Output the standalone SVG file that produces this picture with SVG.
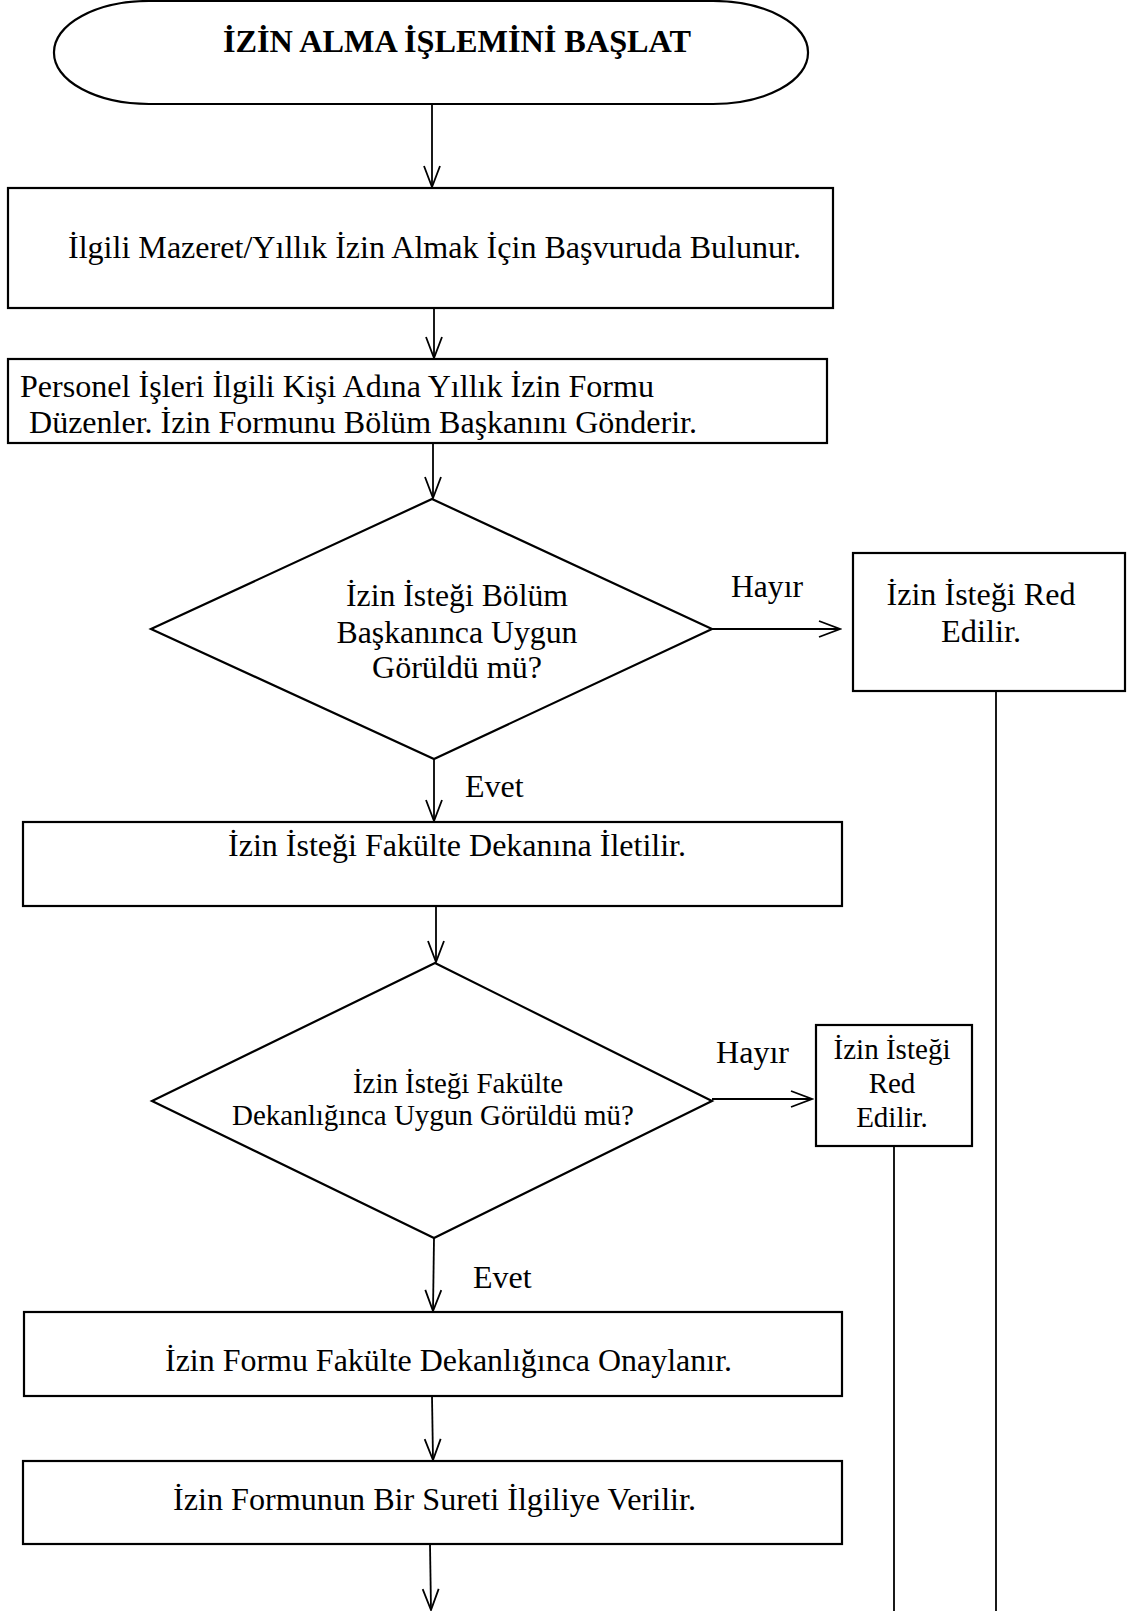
<svg xmlns="http://www.w3.org/2000/svg" width="1139" height="1611" viewBox="0 0 1139 1611">
<style>
.box{fill:#fff;stroke:#000;stroke-width:2.2}
.t{font-family:'Liberation Serif','Times New Roman',serif;font-size:32px;fill:#000}
.s{font-size:29px}
.c{stroke:#000;stroke-width:1.8;fill:none}
</style>
<defs>
<marker id="ah" viewBox="0 0 24 20" refX="22" refY="10" markerWidth="24" markerHeight="20" markerUnits="userSpaceOnUse" orient="auto">
<path d="M1,2 L22,10 L1,18" fill="none" stroke="#000" stroke-width="1.8"/>
</marker>
</defs>
<rect width="1139" height="1611" fill="#fff"/>
<g id="start">
<rect class="box" x="54" y="1" width="754" height="103" rx="95" ry="51"/>
<text class="t" x="457" y="52" text-anchor="middle" font-weight="bold" font-size="33" textLength="468" lengthAdjust="spacingAndGlyphs">İZİN ALMA İŞLEMİNİ BAŞLAT</text>
</g>
<g id="n1">
<rect class="box" x="8" y="188" width="825" height="120"/>
<text class="t" x="68" y="258" textLength="733" lengthAdjust="spacingAndGlyphs">İlgili Mazeret/Yıllık İzin Almak İçin Başvuruda Bulunur.</text>
</g>
<g id="n2">
<rect class="box" x="8" y="359" width="819" height="84"/>
<text class="t" x="20" y="397" textLength="634" lengthAdjust="spacingAndGlyphs">Personel İşleri İlgili Kişi Adına Yıllık İzin Formu</text>
<text class="t" x="29" y="433" textLength="668" lengthAdjust="spacingAndGlyphs">Düzenler. İzin Formunu Bölüm Başkanını Gönderir.</text>
</g>
<g id="d1">
<polygon class="box" points="432,499 712,629 434,759 151,629"/>
<text class="t" x="457" y="606" text-anchor="middle" textLength="222" lengthAdjust="spacingAndGlyphs">İzin İsteği Bölüm</text>
<text class="t" x="457" y="643" text-anchor="middle" textLength="241" lengthAdjust="spacingAndGlyphs">Başkanınca Uygun</text>
<text class="t" x="457" y="678" text-anchor="middle" textLength="170" lengthAdjust="spacingAndGlyphs">Görüldü mü?</text>
</g>
<g id="r1">
<rect class="box" x="853" y="553" width="272" height="138"/>
<text class="t" x="981" y="605" text-anchor="middle" textLength="189" lengthAdjust="spacingAndGlyphs">İzin İsteği Red</text>
<text class="t" x="981" y="642" text-anchor="middle" textLength="80" lengthAdjust="spacingAndGlyphs">Edilir.</text>
</g>
<g id="n3">
<rect class="box" x="23" y="822" width="819" height="84"/>
<text class="t" x="228" y="856" textLength="458" lengthAdjust="spacingAndGlyphs">İzin İsteği Fakülte Dekanına İletilir.</text>
</g>
<g id="d2">
<polygon class="box" points="435,963 712,1101 434,1238 152,1101"/>
<text class="t s" x="458" y="1093" text-anchor="middle" textLength="210" lengthAdjust="spacingAndGlyphs">İzin İsteği Fakülte</text>
<text class="t s" x="433" y="1125" text-anchor="middle" textLength="402" lengthAdjust="spacingAndGlyphs">Dekanlığınca Uygun Görüldü mü?</text>
</g>
<g id="r2">
<rect class="box" x="816" y="1025" width="156" height="121"/>
<text class="t s" x="892" y="1059" text-anchor="middle" textLength="117" lengthAdjust="spacingAndGlyphs">İzin İsteği</text>
<text class="t s" x="892" y="1093" text-anchor="middle">Red</text>
<text class="t s" x="892" y="1127" text-anchor="middle">Edilir.</text>
</g>
<g id="n4">
<rect class="box" x="24" y="1312" width="818" height="84"/>
<text class="t" x="165" y="1371" textLength="567" lengthAdjust="spacingAndGlyphs">İzin Formu Fakülte Dekanlığınca Onaylanır.</text>
</g>
<g id="n5">
<rect class="box" x="23" y="1461" width="819" height="83"/>
<text class="t" x="173" y="1510" textLength="523" lengthAdjust="spacingAndGlyphs">İzin Formunun Bir Sureti İlgiliye Verilir.</text>
</g>
<g id="connectors">
<line class="c" x1="432" y1="104" x2="432" y2="187" marker-end="url(#ah)"/>
<line class="c" x1="434" y1="308" x2="434" y2="358" marker-end="url(#ah)"/>
<line class="c" x1="433" y1="443" x2="433" y2="498" marker-end="url(#ah)"/>
<line class="c" x1="712" y1="629" x2="840" y2="629" marker-end="url(#ah)"/>
<line class="c" x1="434" y1="759" x2="434" y2="821" marker-end="url(#ah)"/>
<line class="c" x1="436" y1="906" x2="436" y2="962" marker-end="url(#ah)"/>
<line class="c" x1="712" y1="1099" x2="812" y2="1099" marker-end="url(#ah)"/>
<line class="c" x1="434" y1="1238" x2="433" y2="1311" marker-end="url(#ah)"/>
<line class="c" x1="432" y1="1396" x2="433" y2="1460" marker-end="url(#ah)"/>
<line class="c" x1="430" y1="1544" x2="431" y2="1610" marker-end="url(#ah)"/>
<line class="c" x1="996" y1="691" x2="996" y2="1611"/>
<line class="c" x1="894" y1="1146" x2="894" y2="1611"/>
<text class="t" x="731" y="597" textLength="72" lengthAdjust="spacingAndGlyphs">Hayır</text>
<text class="t" x="465" y="797">Evet</text>
<text class="t" x="716" y="1063" textLength="73" lengthAdjust="spacingAndGlyphs">Hayır</text>
<text class="t" x="473" y="1288">Evet</text>
</g>
</svg>
